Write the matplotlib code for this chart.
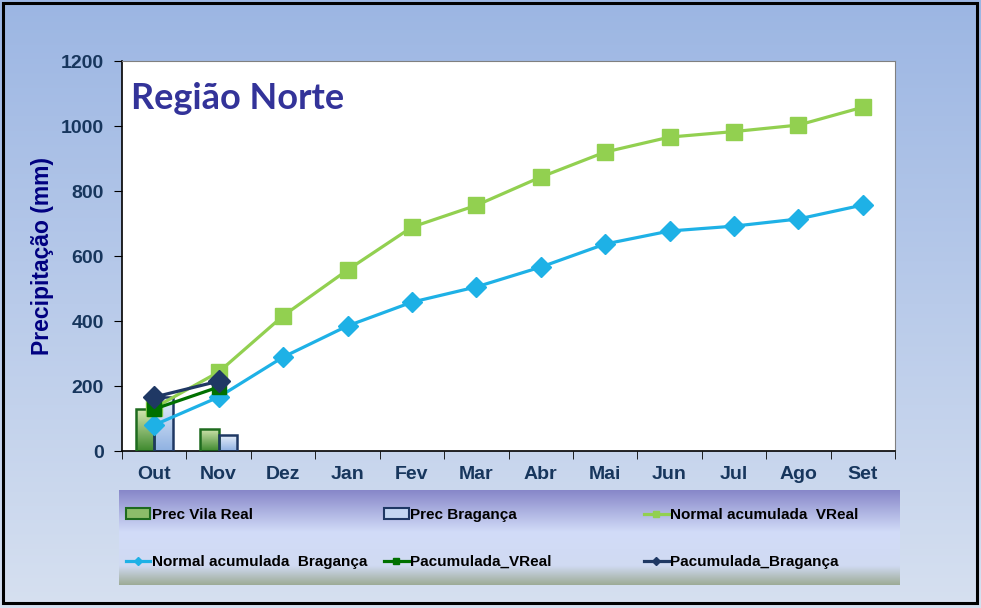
import numpy as np
import matplotlib
matplotlib.use("Agg")
import matplotlib.pyplot as plt
from matplotlib.colors import LinearSegmentedColormap
from matplotlib.patches import Patch, Rectangle
from matplotlib.lines import Line2D
from matplotlib.legend import Legend

# dados (mm)
meses = ["Out", "Nov", "Dez", "Jan", "Fev", "Mar", "Abr", "Mai", "Jun", "Jul", "Ago", "Set"]
prec_vreal = [129, 68]
prec_braganca = [166, 49]
normal_vreal = [133, 243, 416, 557, 689, 756, 843, 920, 966, 983, 1003, 1058]
normal_braganca = [80, 166, 289, 385, 458, 505, 566, 637, 677, 692, 714, 757]
pacum_vreal = [129, 197]
pacum_braganca = [166, 215]

NAVY = "#1f3864"
TICK_COL = "#17365d"

plt.rcParams["font.family"] = ["Liberation Sans", "DejaVu Sans"]

fig = plt.figure(figsize=(9.81, 6.08), dpi=100)

# fundo em degradê
bg = fig.add_axes([0, 0, 1, 1], zorder=-10)
bg_cmap = LinearSegmentedColormap.from_list("bg", ["#9cb6e3", "#b9cbea", "#d6e0f0"])
bg.imshow(np.linspace(0, 1, 256)[:, None], aspect="auto", cmap=bg_cmap,
          extent=[0, 1, 0, 1], origin="upper")
bg.set_axis_off()
fig.patches.append(Rectangle((0.003, 0.008), 0.993, 0.987, transform=fig.transFigure,
                             fill=False, edgecolor="black", linewidth=2.2))

ax = fig.add_axes([0.1244, 0.2582, 0.788, 0.6414])
ax.set_facecolor("white")
x = np.arange(len(meses))
n_prec = len(prec_vreal)
bw = 0.29


def grad_bars(xs, heights, c_top, c_bot, edge):
    cmap = LinearSegmentedColormap.from_list("g", [c_top, c_bot])
    bars = ax.bar(xs, heights, width=bw, facecolor="none", edgecolor=edge,
                  linewidth=1.8, zorder=3)
    for b in bars:
        x0, y0 = b.get_x(), b.get_y()
        im = ax.imshow(np.linspace(0, 1, 64)[:, None], aspect="auto", cmap=cmap,
                       extent=[x0, x0 + b.get_width(), y0, y0 + b.get_height()],
                       origin="upper", zorder=2)
        im.set_clip_path(b)
    return bars


grad_bars(x[:n_prec] - bw / 2, prec_vreal, "#d4e6b0", "#3f8a2f", "#1e6b1e")
grad_bars(x[:n_prec] + bw / 2, prec_braganca, "#e6eefa", "#90b2e2", NAVY)

ax.plot(x, normal_vreal, color="#92d050", lw=2.3, marker="s", ms=12, zorder=4)
ax.plot(x, normal_braganca, color="#1eb1e6", lw=2.3, marker="D", ms=10, zorder=5)
ax.plot(x[:n_prec], pacum_vreal, color="#007000", lw=2.3, marker="s", ms=10, zorder=6)
ax.plot(x[:n_prec], pacum_braganca, color="#1f3864", lw=2.3, marker="D", ms=11, zorder=7)

ax.set_xlim(-0.5, len(meses) - 0.5)
ax.set_ylim(0, 1200)
ax.set_yticks(np.arange(0, 1201, 200))
ax.set_xticks(x)
ax.set_xticklabels(meses)
ax.set_xticks(np.arange(-0.5, len(meses), 1), minor=True)
ax.tick_params(axis="x", which="major", length=0, pad=11)
ax.tick_params(axis="x", which="minor", length=6, direction="out", color="black")
ax.tick_params(axis="y", length=6, direction="out", color="black", pad=7)
for lab in ax.get_xticklabels() + ax.get_yticklabels():
    lab.set_fontsize(14)
    lab.set_fontweight("bold")
    lab.set_color(TICK_COL)
for s in ["top", "right"]:
    ax.spines[s].set_color("#808080")
    ax.spines[s].set_linewidth(0.8)
ax.spines["left"].set_linewidth(1.2)
ax.spines["bottom"].set_linewidth(1.2)

ax.set_ylabel("Precipitação (mm)", fontsize=16.5, fontweight="bold", color="#000080", labelpad=5)
ax.text(0.012, 0.905, "Região Norte", transform=ax.transAxes, ha="left", va="center",
        fontsize=26, fontweight="bold", color="#333399", family=["Lato", "DejaVu Sans"])

# legenda
lax = fig.add_axes([0.1213, 0.0378, 0.796, 0.1563], zorder=1)
leg_cmap = LinearSegmentedColormap.from_list(
    "leg", [(0, "#8585c8"), (0.45, "#d2dcf8"), (0.8, "#d0daf2"), (1, "#9dab96")])
lax.imshow(np.linspace(0, 1, 256)[:, None], aspect="auto", cmap=leg_cmap,
           extent=[0, 1, 0, 1], origin="upper")
lax.set_axis_off()

handles = [
    Patch(facecolor="#8cbc6a", edgecolor="#1e6b1e", linewidth=1.5),
    Patch(facecolor="#c4d6f2", edgecolor=NAVY, linewidth=1.5),
    Line2D([], [], color="#92d050", lw=2.3, marker="s", ms=4),
    Line2D([], [], color="#1eb1e6", lw=2.3, marker="D", ms=4),
    Line2D([], [], color="#007000", lw=2.3, marker="s", ms=4),
    Line2D([], [], color="#1f3864", lw=2.3, marker="D", ms=4),
]
labels = ["Prec Vila Real", "Prec Bragança", "Normal acumulada  VReal",
          "Normal acumulada  Bragança", "Pacumulada_VReal", "Pacumulada_Bragança"]
col_x = [-0.007, 0.324, 0.657]
row_y = [0.737, 0.242]
for i, (h, l) in enumerate(zip(handles, labels)):
    leg = Legend(lax, [h], [l], loc="center left", frameon=False,
                 bbox_to_anchor=(col_x[i % 3], row_y[i // 3]),
                 handlelength=1.6, handletextpad=0.1, borderpad=0.3,
                 prop={"family": ["Liberation Sans Narrow", "Liberation Sans"],
                       "size": 11, "weight": "bold"})
    lax.add_artist(leg)

fig.savefig("out.png", dpi=100)
